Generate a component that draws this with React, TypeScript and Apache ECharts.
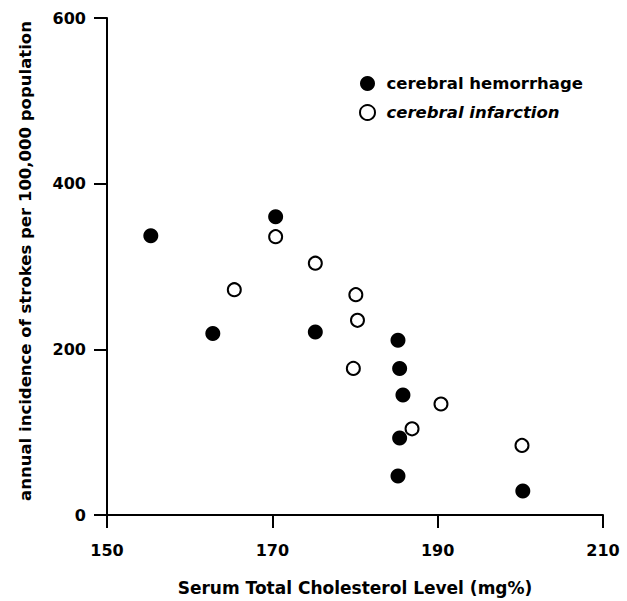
import React, { useEffect, useRef } from "react";
import * as echarts from "echarts";

const hemorrhageX = [155.3, 170.4, 162.8, 175.2, 185.2, 185.4, 185.8, 185.4, 185.2, 200.3];
const hemorrhageY = [337, 360, 219, 221, 211, 177, 145, 93, 47, 29];
const infarctionX = [170.4, 165.4, 175.2, 180.1, 180.3, 179.8, 190.4, 186.9, 200.2];
const infarctionY = [336, 272, 304, 266, 235, 177, 134, 104, 84];
const xTicks = [150, 170, 190, 210];
const yTicks = [0, 200, 400, 600];
const seriesNames = ["cerebral hemorrhage", "cerebral infarction"];
const xTitle = "Serum Total Cholesterol Level (mg%)";
const yTitle = "annual incidence of strokes per 100,000 population";

const FONT = "DejaVu Sans";

export default function App() {
  const ref = useRef<HTMLDivElement>(null);
  useEffect(() => {
    if (!ref.current) return;
    const chart = echarts.init(ref.current, undefined, { renderer: "svg" });
    const pair = (xs: number[], ys: number[]) => xs.map((x, i) => [x, ys[i]]);
    chart.setOption({
      animation: false,
      backgroundColor: "#ffffff",
      grid: { left: 107, right: 24, top: 18, bottom: 85, containLabel: false },
      legend: {
        orient: "vertical",
        left: 354,
        top: 70,
        itemWidth: 28,
        itemHeight: 15,
        itemGap: 12,
        icon: "circle",
        textStyle: { fontFamily: FONT, fontWeight: "bold", fontSize: 16.5, color: "#000" },
        data: [
          { name: seriesNames[0] },
          { name: seriesNames[1], textStyle: { fontStyle: "italic" } },
        ],
      },
      xAxis: {
        type: "value",
        min: xTicks[0],
        max: xTicks[xTicks.length - 1],
        interval: xTicks[1] - xTicks[0],
        name: xTitle,
        nameLocation: "middle",
        nameGap: 64,
        nameTextStyle: { fontFamily: FONT, fontWeight: "bold", fontSize: 17, color: "#000" },
        axisLine: { show: true, onZero: false, lineStyle: { color: "#000", width: 2 } },
        axisTick: { show: true, inside: false, length: 13, lineStyle: { color: "#000", width: 2 } },
        axisLabel: { margin: 27, fontFamily: FONT, fontWeight: "bold", fontSize: 16, color: "#000" },
        splitLine: { show: false },
      },
      yAxis: {
        type: "value",
        min: yTicks[0],
        max: yTicks[yTicks.length - 1],
        interval: yTicks[1] - yTicks[0],
        name: yTitle,
        nameLocation: "middle",
        nameGap: 73,
        nameTextStyle: {
          fontFamily: FONT,
          fontWeight: "bold",
          fontSize: 16.5,
          color: "#000",
          padding: [0, 0, 0, 11],
        },
        axisLine: { show: true, onZero: false, lineStyle: { color: "#000", width: 2 } },
        axisTick: { show: true, inside: false, length: 13, lineStyle: { color: "#000", width: 2 } },
        axisLabel: { margin: 21, fontFamily: FONT, fontWeight: "bold", fontSize: 16, color: "#000" },
        splitLine: { show: false },
      },
      series: [
        {
          name: seriesNames[0],
          type: "scatter",
          symbol: "circle",
          symbolSize: 15,
          itemStyle: { color: "#000", opacity: 1 },
          data: pair(hemorrhageX, hemorrhageY),
        },
        {
          name: seriesNames[1],
          type: "scatter",
          symbol: "circle",
          symbolSize: 13,
          itemStyle: { color: "#fff", borderColor: "#000", borderWidth: 2, opacity: 1 },
          data: pair(infarctionX, infarctionY),
        },
      ],
    });
    return () => chart.dispose();
  }, []);
  return (
    <div
      ref={ref}
      style={{ position: "fixed", left: 0, top: 0, width: 627, height: 601, background: "#fff" }}
    />
  );
}
